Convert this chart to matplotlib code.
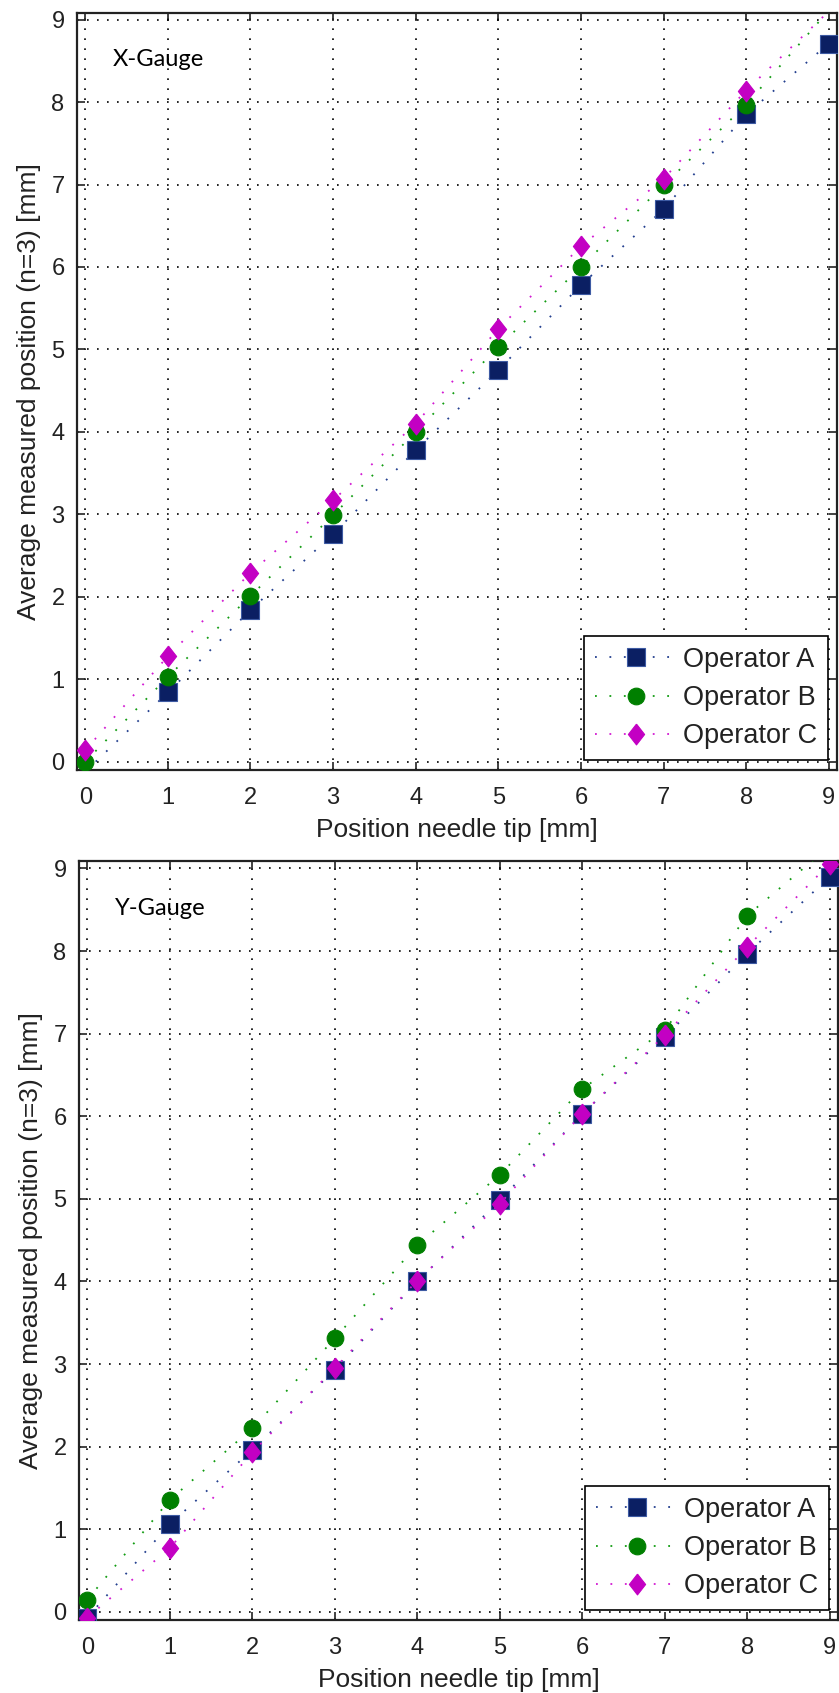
import matplotlib
matplotlib.use('Agg')
import matplotlib.pyplot as plt
import numpy as np

# needle tip positions (mm)
positions = [0, 1, 2, 3, 4, 5, 6, 7, 8, 9]
operators = ['Operator A', 'Operator B', 'Operator C']

# X-Gauge, average measured position (n=3)
x_gauge_a = [-0.12, 0.84, 1.84, 2.76, 3.78, 4.75, 5.78, 6.70, 7.85, 8.71]
x_gauge_b = [0.00, 1.03, 2.01, 2.99, 4.00, 5.03, 6.00, 6.99, 7.97, 9.11]
x_gauge_c = [0.14, 1.28, 2.29, 3.17, 4.10, 5.25, 6.25, 7.07, 8.14, 9.10]

# Y-Gauge
y_gauge_a = [-0.07, 1.06, 1.96, 2.93, 4.00, 4.98, 6.03, 6.96, 7.97, 8.90]
y_gauge_b = [0.145, 1.355, 2.22, 3.31, 4.44, 5.29, 6.33, 7.04, 8.43, 9.27]
y_gauge_c = [-0.07, 0.77, 1.93, 2.95, 4.01, 4.94, 6.03, 6.98, 8.05, 9.06]

tick_vals = list(range(10))

plt.rcParams['font.family'] = ['Liberation Sans', 'DejaVu Sans']

diamond = [(0, 1), (0.78, 0), (0, -1), (-0.78, 0), (0, 1)]
styles = [
    dict(marker='s', ms=13, mfc='#0b1f63', mec='#3d5aa3', color='#24408f'),
    dict(marker='o', ms=12, mfc='#007f00', mec='#007f00', color='#129c12'),
    dict(marker=diamond, ms=15, mfc='#c300c3', mec='#c300c3', color='#d21ad2'),
]


def draw_panel(ax, series, ylim, tag):
    ax.set_xlim(-0.1, 9.1)
    ax.set_ylim(*ylim)
    for vals, lab, st in zip(series, operators, styles):
        vals = np.array(vals)
        # MATLAB does not draw markers whose centre falls outside the axes
        inside = list((vals >= ylim[0]) & (vals <= ylim[1]))
        ax.plot(positions, vals, linestyle=(0, (1, 7)), lw=1.3, color=st['color'],
                marker=st['marker'], ms=st['ms'], mfc=st['mfc'], mec=st['mec'],
                mew=0.8, markevery=inside, label=lab, zorder=3)

    ax.set_xticks(tick_vals)
    ax.set_yticks(tick_vals)
    ax.grid(True, color='black', linestyle=(0, (1, 5)), lw=1.2, zorder=0)
    ax.set_axisbelow(True)
    ax.tick_params(direction='in', length=6, width=1.2, top=True, right=True,
                   labelsize=17, pad=9, colors='#222222')
    ax.tick_params(axis='x', pad=12)
    for sp in ax.spines.values():
        sp.set_linewidth(1.6)
        sp.set_color('#222222')

    ax.set_xlabel('Position needle tip [mm]', fontsize=19, color='#222222')
    ax.set_ylabel('Average measured position (n=3) [mm]', fontsize=19, color='#222222')
    ax.xaxis.set_label_coords(0.5, -0.063)
    ax.yaxis.set_label_coords(-0.047, 0.5)

    ax.text(0.33, 8.44, tag, fontsize=17, family=['Lato', 'DejaVu Sans'],
            va='baseline', ha='left', color='black')

    leg = ax.legend(loc='lower right', bbox_to_anchor=(0.988, 0.013), fontsize=19.5,
                    numpoints=1, handlelength=3.0, handletextpad=0.25,
                    labelspacing=0.45, borderpad=0.4, borderaxespad=0,
                    fancybox=False, framealpha=1, edgecolor='black')
    leg.get_frame().set_linewidth(1.2)
    for t in leg.get_texts():
        t.set_color('#222222')


fig = plt.figure(figsize=(8.39, 16.93), dpi=100)
ax_top = fig.add_axes([0.0918, 0.5452, 0.9058, 0.4471])
ax_bot = fig.add_axes([0.0942, 0.0431, 0.9046, 0.4483])

draw_panel(ax_top, [x_gauge_a, x_gauge_b, x_gauge_c], (-0.1, 9.08), 'X-Gauge')
draw_panel(ax_bot, [y_gauge_a, y_gauge_b, y_gauge_c], (-0.1, 9.09), 'Y-Gauge')

fig.savefig('out.png', dpi=100)
